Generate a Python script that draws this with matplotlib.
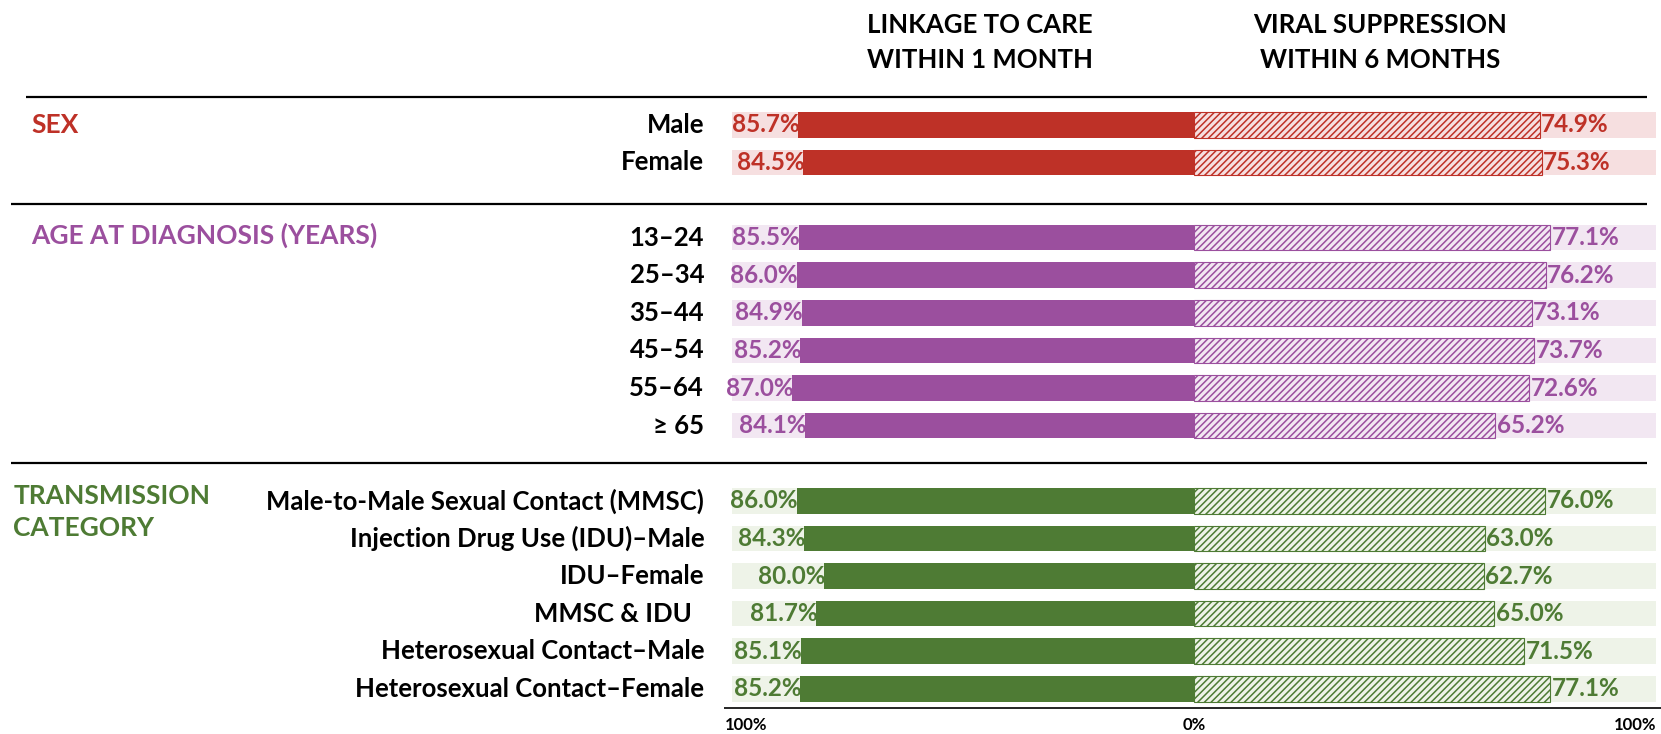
import matplotlib.pyplot as plt

plt.rcParams['font.family'] = ['Lato', 'DejaVu Sans']
plt.rcParams['hatch.linewidth'] = 1.1

# groups, rows and values (percent)
groups = ['SEX', 'AGE AT DIAGNOSIS (YEARS)', 'TRANSMISSION\nCATEGORY']
group_colors = ['#BE3127', '#9B4F9E', '#4E7B34']
group_pale = ['#F6DFE0', '#F2E7F2', '#EEF3E8']

sex_labels = ['Male', 'Female']
sex_linkage = [85.7, 84.5]
sex_viral = [74.9, 75.3]

age_labels = ['13\u201324', '25\u201334', '35\u201344', '45\u201354', '55\u201364', '\u2265 65']
age_linkage = [85.5, 86.0, 84.9, 85.2, 87.0, 84.1]
age_viral = [77.1, 76.2, 73.1, 73.7, 72.6, 65.2]

trans_labels = ['Male-to-Male Sexual Contact (MMSC)', 'Injection Drug Use (IDU)\u2013Male',
                'IDU\u2013Female', 'MMSC & IDU  ', 'Heterosexual Contact\u2013Male',
                'Heterosexual Contact\u2013Female']
trans_linkage = [86.0, 84.3, 80.0, 81.7, 85.1, 85.2]
trans_viral = [76.0, 63.0, 62.7, 65.0, 71.5, 77.1]

header_left = 'LINKAGE TO CARE\nWITHIN 1 MONTH'
header_right = 'VIRAL SUPPRESSION\nWITHIN 6 MONTHS'
tick_vals = [-100, 0, 100]
tick_labels = ['100%', '0%', '100%']

fig = plt.figure(figsize=(16.61, 7.34), dpi=100)
ax = fig.add_axes([0, 0, 1, 1])
ax.set_xlim(-258.4, 101.1)
ax.set_ylim(16.2, -3.32)
ax.axis('off')

blocks = [(sex_labels, sex_linkage, sex_viral),
          (age_labels, age_linkage, age_viral),
          (trans_labels, trans_linkage, trans_viral)]
starts = [0, 3, 10]
h = 0.68

for gi, (labels, link, viral) in enumerate(blocks):
    c, pale = group_colors[gi], group_pale[gi]
    ys = [starts[gi] + i for i in range(len(labels))]
    ax.barh(ys, [-100] * len(ys), height=h, color=pale, lw=0)
    ax.barh(ys, [100] * len(ys), height=h, color=pale, lw=0)
    ax.barh(ys, [-v for v in link], height=h, color=c, lw=0)
    ax.barh(ys, viral, height=h, facecolor=pale, edgecolor=c, hatch='/////', lw=0.8)
    for y, lab, lv, vv in zip(ys, labels, link, viral):
        ax.text(-106, y, lab, ha='right', va='center', fontsize=18.5, fontweight='bold')
        ax.text(-lv + 0.3, y, f'{lv:.1f}%', ha='right', va='center', fontsize=17.5,
                fontweight='bold', color=c)
        ax.text(vv + 0.3, y, f'{vv:.1f}%', ha='left', va='center', fontsize=17.5,
                fontweight='bold', color=c)

# group titles
ax.text(-251.6, 0, groups[0], ha='left', va='center', fontsize=19, fontweight='bold',
        color=group_colors[0])
ax.text(-251.6, 2.93, groups[1], ha='left', va='center', fontsize=19, fontweight='bold',
        color=group_colors[1])
ax.text(-255.5, 10.3, groups[2], ha='left', va='center', fontsize=19, fontweight='bold',
        color=group_colors[2], linespacing=1.38)

# column headers
ax.text(-46.3, -2.2, header_left, ha='center', va='center', fontsize=18.5,
        fontweight='bold', linespacing=1.55)
ax.text(40.3, -2.2, header_right, ha='center', va='center', fontsize=18.5,
        fontweight='bold', linespacing=1.55)

# separators
ax.plot([-252.7, 98], [-0.73, -0.73], color='black', lw=1.6, solid_capstyle='butt')
ax.plot([-256, 98], [2.11, 2.11], color='black', lw=1.6, solid_capstyle='butt')
ax.plot([-256, 98], [8.99, 8.99], color='black', lw=1.6, solid_capstyle='butt')
ax.plot([-101.8, 101.1], [15.5, 15.5], color='black', lw=1.2, solid_capstyle='butt')

for tv, tl, ha in zip(tick_vals, tick_labels, ['left', 'center', 'right']):
    ax.text(tv - 1.5 if ha == 'left' else tv, 15.97, tl, ha=ha, va='center',
            fontsize=12, fontweight='bold')

fig.savefig('out.png', dpi=100)
